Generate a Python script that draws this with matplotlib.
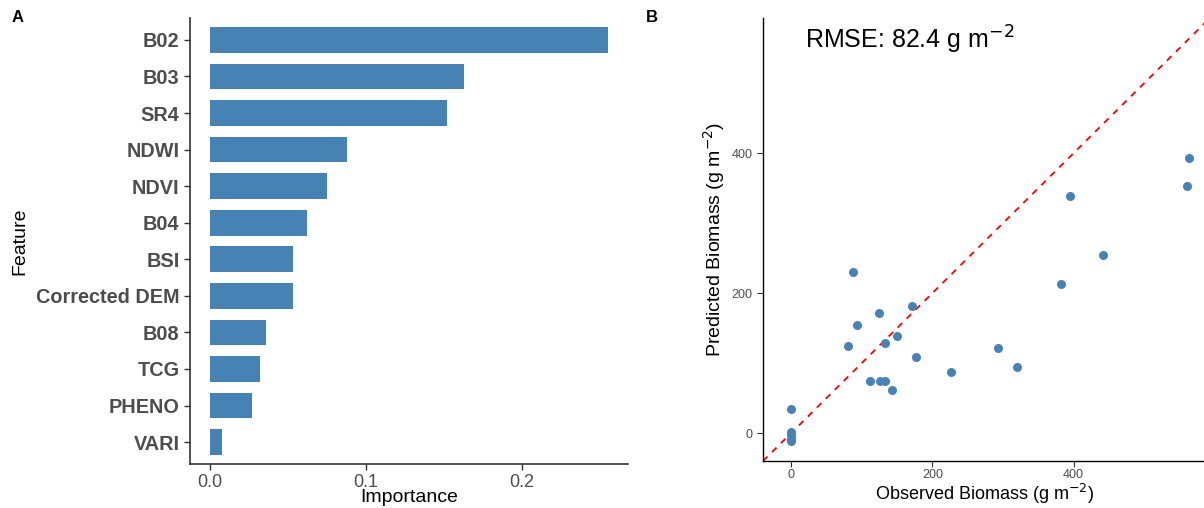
import matplotlib
matplotlib.use("Agg")
import matplotlib.pyplot as plt
from matplotlib import font_manager as fm
import numpy as np

features = ["B02", "B03", "SR4", "NDWI", "NDVI", "B04", "BSI", "Corrected DEM",
            "B08", "TCG", "PHENO", "VARI"]
importance = [0.255, 0.163, 0.152, 0.0875, 0.075, 0.062, 0.053, 0.053,
              0.036, 0.032, 0.027, 0.0077]

observed = [563, 561, 395, 441, 382, 87.5, 171, 124, 93, 150, 80, 133, 177,
            293, 320, 226.5, 112, 125, 133, 142, 0, 0, 0, 0, 0]
predicted = [393, 353, 338, 254, 213, 230, 181, 171, 155, 139, 125, 129, 108,
             121, 95, 87, 75, 75, 75, 61, 35, 2, -3, -8, -12]
rmse = 82.4

narrow = "Liberation Sans Narrow"
names = {f.name for f in fm.fontManager.ttflist}
has_narrow = narrow in names
if not has_narrow:
    narrow = "Liberation Sans"
plt.rcParams["font.family"] = ["Liberation Sans", "DejaVu Sans"]

fig = plt.figure(figsize=(12.04, 5.08), dpi=100)

# Panel A
axA = fig.add_axes([190/1204, 1-464/508, (628-190)/1204, (464-18)/508])
ypos = np.arange(len(features))
axA.barh(ypos, importance, height=0.7, color="#4682B4")
axA.set_yticks(ypos)
axA.set_yticklabels(features, fontsize=16 if has_narrow else 14.3,
                    fontweight="bold", color="#4D4D4D", family=narrow)
axA.set_ylim(len(features) - 1 + 0.6, -0.6)
axA.set_xlim(-0.01275, 0.26775)
axA.set_xticks([0.0, 0.1, 0.2])
axA.set_xticklabels(["0.0", "0.1", "0.2"], fontsize=13, color="#4D4D4D", family=narrow)
axA.set_ylabel("Feature", fontsize=14, family=narrow)
axA.yaxis.set_label_coords((28-190)/438, 0.5)
for s in ["top", "right"]:
    axA.spines[s].set_visible(False)
for s in ["left", "bottom"]:
    axA.spines[s].set_color("#333333")
    axA.spines[s].set_linewidth(1.2)
axA.tick_params(length=4, color="#333333", width=1)
fig.text(409/1204, 1-489/508, "Importance", fontsize=14, family=narrow,
         ha="center", va="top")

# Panel B
axB = fig.add_axes([763/1204, 1-461/508, (1205-763)/1204, (461-18)/508])
axB.scatter(observed, predicted, s=42, color="#4682B4", zorder=3, linewidths=0)
axB.set_xlim(-40, 586)
axB.set_ylim(-40, 593)
lims = np.array([-40, 600])
axB.plot(lims, lims, color="red", linestyle=(0, (3.5, 3.5)), linewidth=1.3, zorder=2)
axB.set_xticks([0, 200, 400])
axB.set_yticks([0, 200, 400])
axB.tick_params(labelsize=9, labelcolor="#4D4D4D", length=4, color="#333333")
axB.tick_params(axis="x", pad=2)
fig.text(985/1204, 2/508, "Observed Biomass (g m$^{-2}$)", fontsize=13,
         ha="center", va="bottom")
axB.set_ylabel("Predicted Biomass (g m$^{-2}$)", fontsize=14, labelpad=3)
for s in ["top", "right"]:
    axB.spines[s].set_visible(False)
for s in ["left", "bottom"]:
    axB.spines[s].set_color("black")
    axB.spines[s].set_linewidth(1.0)
axB.text(20, 561, f"RMSE: {rmse} g m$^{{-2}}$", fontsize=18, ha="left", va="center")

fig.text(18/1204, 1-18/508, "A", fontsize=12, fontweight="bold", ha="center", va="center")
fig.text(652/1204, 1-18/508, "B", fontsize=12, fontweight="bold", ha="center", va="center")

fig.savefig("out.png", dpi=100)
